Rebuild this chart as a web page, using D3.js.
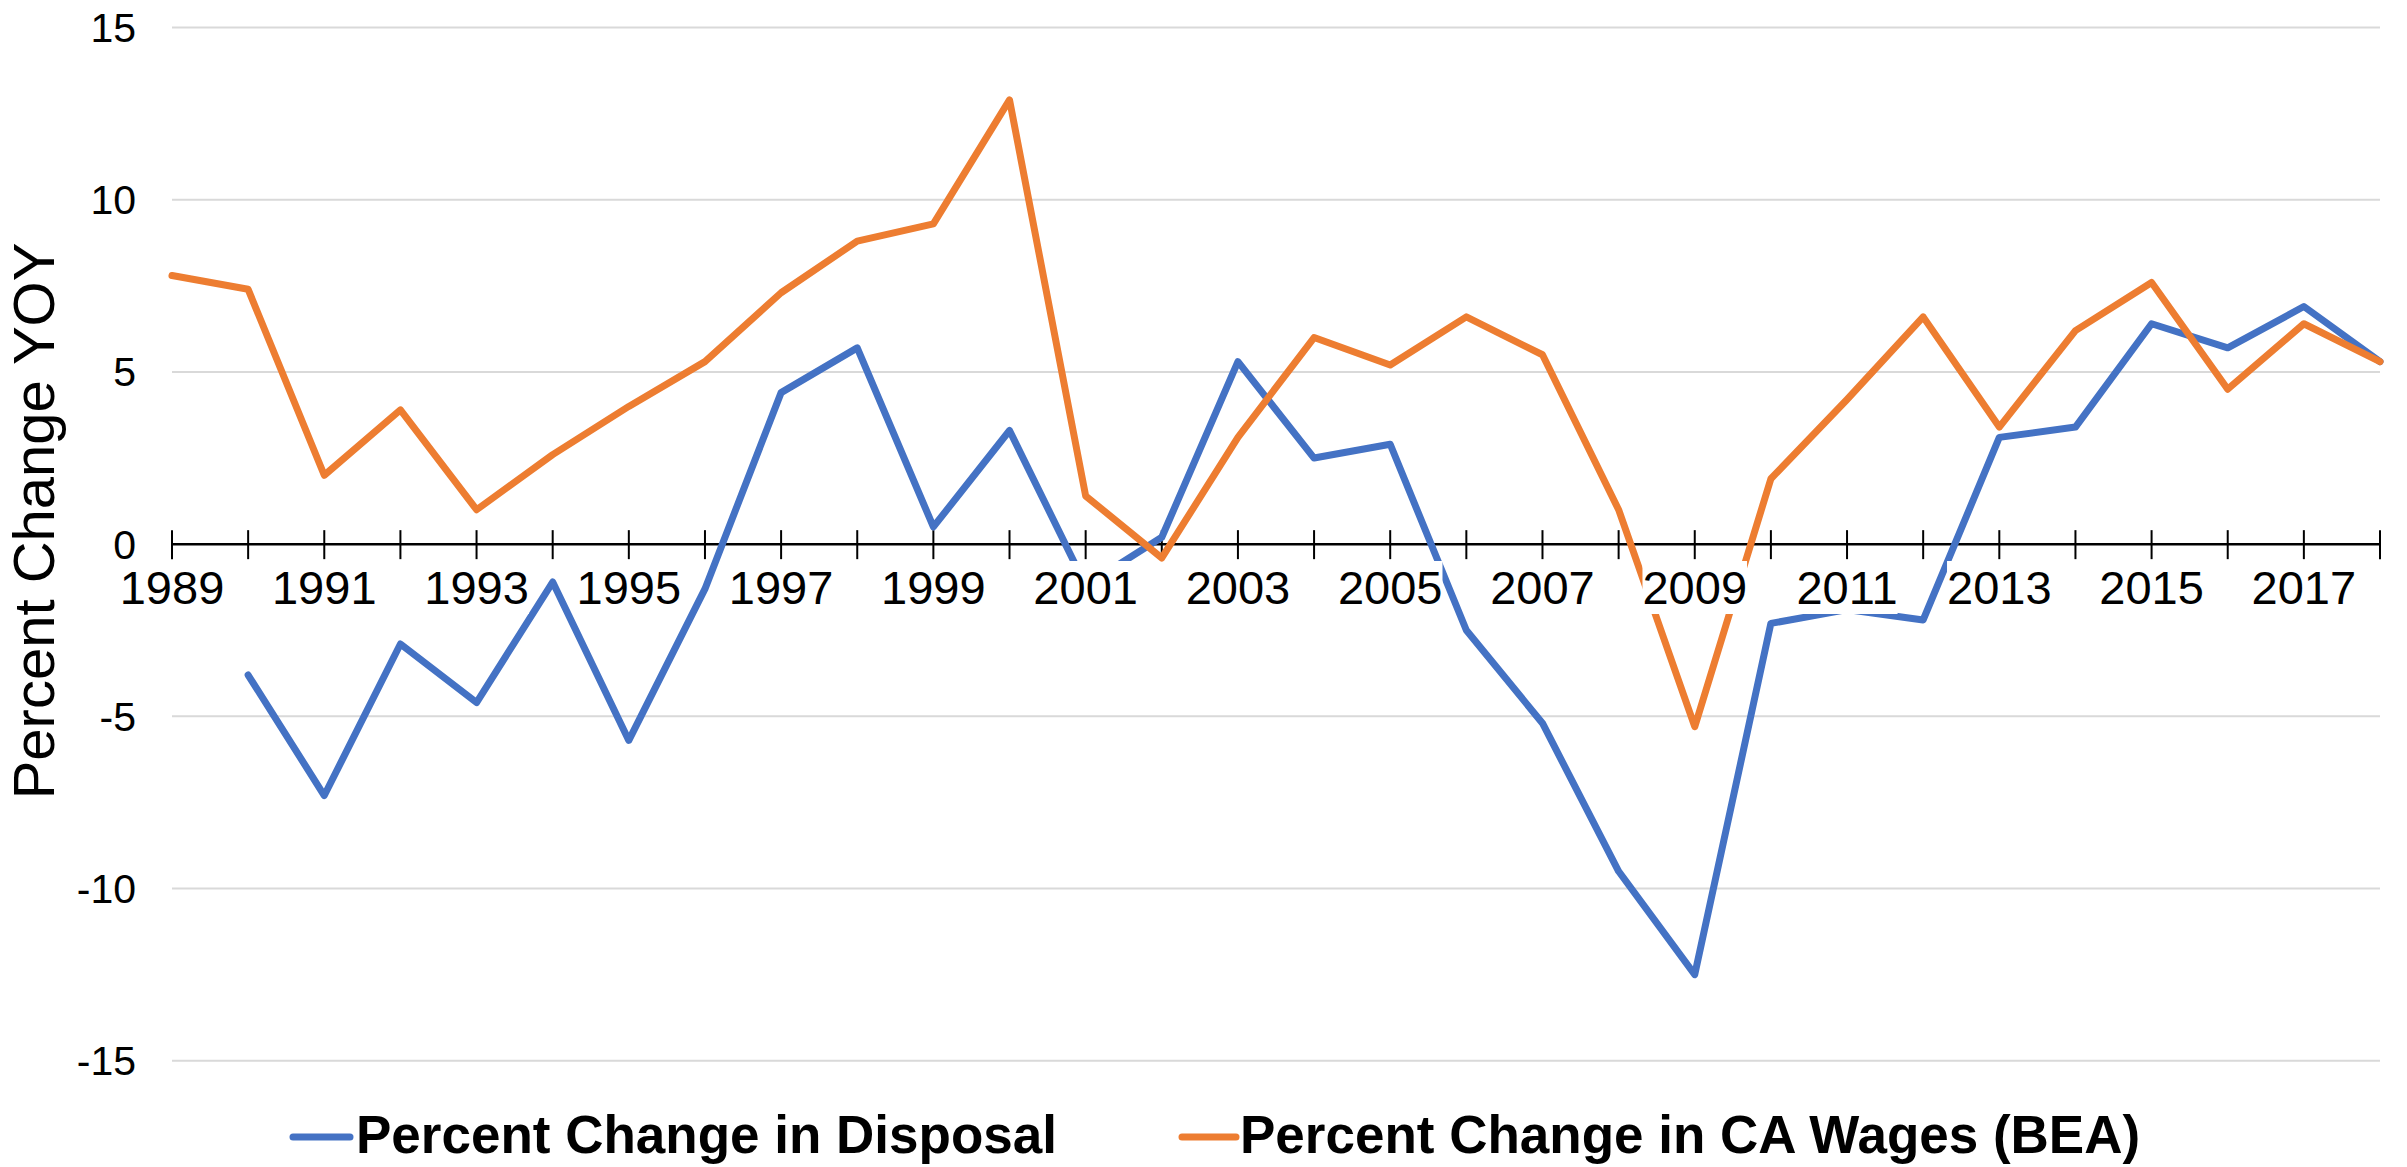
<!DOCTYPE html>
<html>
<head>
<meta charset="utf-8">
<script src="https://cdn.jsdelivr.net/npm/d3@7/dist/d3.min.js"></script>
<style>
  body { margin: 0; background: #fff; }
  #chart text { font-family: "Liberation Sans", Arial, sans-serif; fill: #000; }
</style>
</head>
<body>
<div id="chart"></div>
<script>
// Years on the category axis
const years = [1989, 1990, 1991, 1992, 1993, 1994, 1995, 1996, 1997, 1998,
  1999, 2000, 2001, 2002, 2003, 2004, 2005, 2006, 2007, 2008,
  2009, 2010, 2011, 2012, 2013, 2014, 2015, 2016, 2017, 2018];

// Percent change in disposal (no value for 1989)
const disposal = [null, -3.8, -7.3, -2.9, -4.6, -1.1, -5.7, -1.3, 4.4, 5.7,
  0.5, 3.3, -1.2, 0.2, 5.3, 2.5, 2.9, -2.5, -5.2, -9.5,
  -12.5, -2.3, -1.9, -2.2, 3.1, 3.4, 6.4, 5.7, 6.9, 5.3];

// Percent change in CA wages (BEA)
const wages = [7.8, 7.4, 2.0, 3.9, 1.0, 2.6, 4.0, 5.3, 7.3, 8.8,
  9.3, 12.9, 1.4, -0.4, 3.1, 6.0, 5.2, 6.6, 5.5, 1.0,
  -5.3, 1.9, 4.2, 6.6, 3.4, 6.2, 7.6, 4.5, 6.4, 5.3];

const yTicks = [-15, -10, -5, 0, 5, 10, 15];
const labelYears = years.filter((d, i) => i % 2 === 0);

const seriesNames = ["Percent Change in Disposal", "Percent Change in CA Wages (BEA)"];
const seriesColors = ["#4472C4", "#ED7D31"];

const width = 2407;
const height = 1167;

const x = d3.scalePoint()
  .domain(years)
  .range([172, 2380]);

const y = d3.scaleLinear()
  .domain([-15, 15])
  .range([1060.7, 27.6]);

const svg = d3.select("#chart")
  .append("svg")
  .attr("width", width)
  .attr("height", height)
  .attr("viewBox", [0, 0, width, height]);

// horizontal gridlines
svg.append("g")
  .selectAll("line")
  .data(yTicks.filter(d => d !== 0))
  .join("line")
  .attr("x1", x.range()[0])
  .attr("x2", x.range()[1])
  .attr("y1", d => y(d))
  .attr("y2", d => y(d))
  .attr("stroke", "#d9d9d9")
  .attr("stroke-width", 2);

// y tick labels
svg.append("g")
  .style("font-size", "41px")
  .selectAll("text")
  .data(yTicks)
  .join("text")
  .attr("x", 136)
  .attr("y", d => y(d))
  .attr("dy", "0.35em")
  .attr("text-anchor", "end")
  .text(d => d);

// x axis sits on zero, ticks cross the line
const xAxis = svg.append("g").attr("transform", `translate(0,${y(0)})`);
xAxis.append("line")
  .attr("x1", x.range()[0])
  .attr("x2", x.range()[1])
  .attr("stroke", "#000")
  .attr("stroke-width", 2.5);
xAxis.selectAll("line.tick")
  .data(years)
  .join("line")
  .attr("class", "tick")
  .attr("x1", d => x(d))
  .attr("x2", d => x(d))
  .attr("y1", -14)
  .attr("y2", 15)
  .attr("stroke", "#000")
  .attr("stroke-width", 2);

// series lines
const line = d3.line()
  .defined(d => d[1] !== null)
  .x(d => x(d[0]))
  .y(d => y(d[1]));

[disposal, wages].forEach((values, i) => {
  svg.append("path")
    .datum(years.map((yr, j) => [yr, values[j]]))
    .attr("fill", "none")
    .attr("stroke", seriesColors[i])
    .attr("stroke-width", 7)
    .attr("stroke-linejoin", "round")
    .attr("stroke-linecap", "round")
    .attr("d", line);
});

// x tick labels with a white box behind them (they sit on top of the lines)
const xLabels = svg.append("g").style("font-size", "47px");
labelYears.forEach(yr => {
  const g = xLabels.append("g");
  const t = g.append("text")
    .attr("x", x(yr))
    .attr("y", 604)
    .attr("text-anchor", "middle")
    .text(yr);
  const b = t.node().getBBox();
  g.insert("rect", "text")
    .attr("x", b.x)
    .attr("y", b.y)
    .attr("width", b.width)
    .attr("height", b.height)
    .attr("fill", "#fff");
});

// y axis title
svg.append("text")
  .attr("transform", "translate(54,521) rotate(-90)")
  .attr("text-anchor", "middle")
  .style("font-size", "58px")
  .text("Percent Change YOY");

// legend
const legendItems = [
  { name: seriesNames[0], color: seriesColors[0], x1: 293, x2: 350, tx: 356 },
  { name: seriesNames[1], color: seriesColors[1], x1: 1182, x2: 1236, tx: 1240 }
];
const legend = svg.append("g");
legendItems.forEach(d => {
  legend.append("line")
    .attr("x1", d.x1)
    .attr("x2", d.x2)
    .attr("y1", 1137)
    .attr("y2", 1137)
    .attr("stroke", d.color)
    .attr("stroke-width", 7)
    .attr("stroke-linecap", "round");
  legend.append("text")
    .attr("x", d.tx)
    .attr("y", 1153)
    .style("font-size", "53px")
    .style("font-weight", "bold")
    .text(d.name);
});
</script>
</body>
</html>
